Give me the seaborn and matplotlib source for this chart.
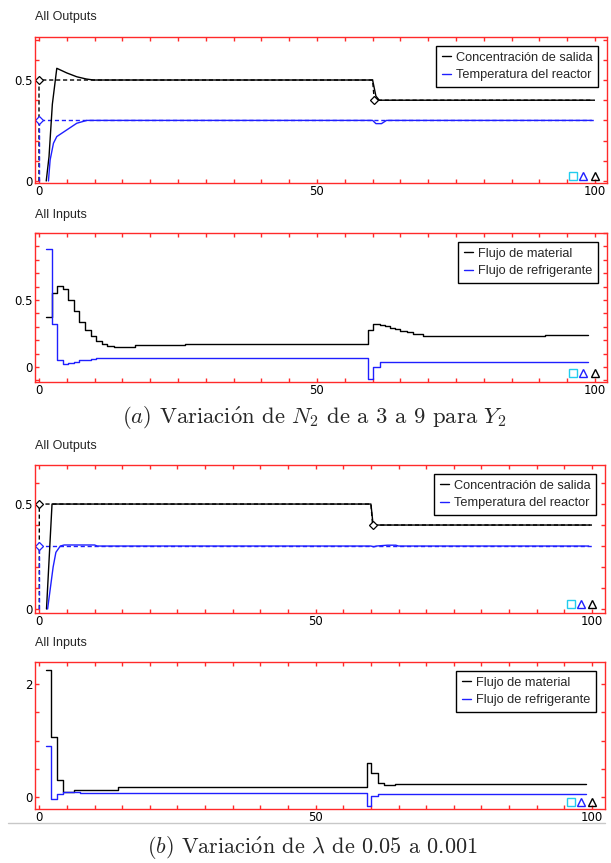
import matplotlib
matplotlib.use("Agg")
import matplotlib.pyplot as plt
from matplotlib.lines import Line2D
from matplotlib.ticker import MultipleLocator, FixedLocator
import seaborn as sns

# ---------------- (a) outputs ----------------
conc_a_t = [1.3, 1.8, 2.4, 3.2, 5.0, 6.8, 8.5, 9.8, 60.0, 60.6, 61.2, 99.6]
conc_a_y = [0.0, 0.12, 0.38, 0.558, 0.535, 0.516, 0.505, 0.5, 0.5, 0.42, 0.4, 0.4]
temp_a_t = [1.7, 2.0, 2.6, 3.2, 5.0, 6.8, 8.6, 60.0, 60.6, 61.6, 62.5, 99.4]
temp_a_y = [0.0, 0.104, 0.187, 0.22, 0.253, 0.286, 0.3, 0.3, 0.284, 0.284, 0.3, 0.3]
ref_conc_a_t = [0.0, 0.0, 60.0, 60.3, 100.0]
ref_conc_a_y = [0.0, 0.5, 0.5, 0.4, 0.4]
ref_temp_a_t = [0.0, 0.0, 100.0]
ref_temp_a_y = [0.0, 0.3, 0.3]

# ---------------- (a) inputs ----------------
material_a_t = [1.2, 2.27, 3.3, 4.25, 5.3, 6.3, 7.25, 8.27, 9.3, 10.25, 11.3, 12.3,
                13.4, 17.3, 26.2, 59.2, 60.0, 61.3, 62.2, 63.1, 64.0, 64.9, 66.1,
                67.3, 69.1, 91.0, 98.8]
material_a = [0.375, 0.55, 0.604, 0.58, 0.5, 0.42, 0.338, 0.276, 0.231, 0.196, 0.172,
              0.157, 0.152, 0.165, 0.172, 0.275, 0.32, 0.315, 0.306, 0.293, 0.281,
              0.268, 0.259, 0.249, 0.234, 0.24, 0.24]
coolant_a_t = [1.2, 2.27, 3.3, 4.25, 5.3, 6.3, 7.25, 8.27, 9.3, 10.25, 59.2, 60.0, 61.3, 98.8]
coolant_a = [0.88, 0.32, 0.052, 0.02, 0.03, 0.04, 0.05, 0.055, 0.06, 0.07, -0.09, 0.0,
             0.035, 0.035]

# ---------------- (b) outputs ----------------
conc_b_t = [1.3, 1.8, 2.3, 60.0, 60.4, 99.6]
conc_b_y = [0.0, 0.25, 0.5, 0.5, 0.4, 0.4]
temp_b_t = [1.5, 2.0, 2.5, 3.0, 3.8, 4.5, 10.0, 10.5, 60.0, 60.5, 61.0, 63.0, 64.5, 65.0, 99.4]
temp_b_y = [0.0, 0.1, 0.2, 0.27, 0.3, 0.305, 0.305, 0.3, 0.3, 0.296, 0.3, 0.304, 0.304,
            0.3, 0.3]
ref_conc_b_t = [0.0, 0.0, 60.0, 60.3, 100.0]
ref_conc_b_y = [0.0, 0.5, 0.5, 0.4, 0.4]
ref_temp_b_t = [0.0, 0.0, 100.0]
ref_temp_b_y = [0.0, 0.3, 0.3]

# ---------------- (b) inputs ----------------
material_b_t = [1.15, 2.2, 3.14, 4.2, 6.2, 14.3, 59.2, 60.0, 61.2, 62.3, 64.4, 99.0]
material_b = [2.25, 1.07, 0.3, 0.09, 0.13, 0.17, 0.61, 0.42, 0.24, 0.21, 0.23, 0.23]
coolant_b_t = [1.15, 2.2, 3.14, 4.2, 7.3, 59.2, 60.0, 61.2, 99.0]
coolant_b = [0.9, -0.04, 0.047, 0.09, 0.065, -0.16, 0.012, 0.047, 0.047]

out_labels = ["Concentración de salida", "Temperatura del reactor"]
in_labels = ["Flujo de material", "Flujo de refrigerante"]
x_ticks = [0, 50, 100]
caption_a = r"$(a)$ Variaci$\mathrm{\acute{o}}$n de $N_2$ de a 3 a 9 para $Y_2$"
caption_b = r"$(b)$ Variaci$\mathrm{\acute{o}}$n de $\lambda$ de 0.05 a 0.001"

sns.set_theme(style="white")
plt.rcParams["font.family"] = ["Liberation Sans", "DejaVu Sans"]
plt.rcParams["mathtext.fontset"] = "cm"

W, H = 611, 863
fig = plt.figure(figsize=(W / 100, H / 100), dpi=100)
fig.patch.set_facecolor("white")

RED = "#ff2a2a"
BLUE = "#1f1fff"
BLACK = "#000000"


def make_axes(left, top, right, bottom):
    return fig.add_axes([left / W, 1 - bottom / H, (right - left) / W, (bottom - top) / H])


def style_axes(ax, xlim, ylim, yticks, yminor):
    ax.set_xlim(*xlim)
    ax.set_ylim(*ylim)
    ax.set_facecolor("white")
    for sp in ax.spines.values():
        sp.set_visible(True)
        sp.set_color(RED)
        sp.set_linewidth(1.0)
    ax.xaxis.set_major_locator(FixedLocator(x_ticks))
    ax.set_xticklabels([str(v) for v in x_ticks])
    ax.yaxis.set_major_locator(FixedLocator(yticks))
    ax.set_yticklabels(["0" if v == 0 else f"{v:g}" for v in yticks])
    ax.xaxis.set_minor_locator(MultipleLocator(5))
    ax.yaxis.set_minor_locator(MultipleLocator(yminor))
    ax.tick_params(which="both", direction="in", color=RED, width=1.0, length=3,
                   top=True, right=True, bottom=True, left=True,
                   labelcolor="black", labelsize=8.5, pad=1.5)
    for lab in ax.get_xticklabels() + ax.get_yticklabels():
        lab.set_family("DejaVu Sans")
    ax.set_xlabel("")
    ax.set_ylabel("")


def corner_markers(ax, xs, y):
    ax.plot([xs[0]], [y], marker="s", ms=5.5, mfc="none", mec="#22ccee", mew=1.0,
            transform=ax.transAxes, clip_on=False)
    ax.plot([xs[1]], [y], marker="^", ms=5.5, mfc="none", mec=BLUE, mew=1.0,
            transform=ax.transAxes, clip_on=False)
    ax.plot([xs[2]], [y], marker="^", ms=5.5, mfc="none", mec=BLACK, mew=1.0,
            transform=ax.transAxes, clip_on=False)


def add_legend(ax, labels):
    handles = [Line2D([], [], color=BLACK, lw=1.0), Line2D([], [], color=BLUE, lw=1.0)]
    leg = ax.legend(handles, labels, loc="upper right", fontsize=9.2, frameon=True,
                    fancybox=False, framealpha=1, edgecolor="black",
                    handlelength=0.7, handletextpad=0.4, borderpad=0.45,
                    labelspacing=0.42, borderaxespad=0.7)
    leg.get_frame().set_linewidth(1.0)


def line(ax, t, y, color, **kw):
    sns.lineplot(x=t, y=y, ax=ax, color=color, lw=1.0, estimator=None, sort=False,
                 legend=False, **kw)


dash = (0, (3, 2))

# ---- panel 1: outputs (a)
ax1 = make_axes(35, 37, 607, 183)
line(ax1, ref_conc_a_t, ref_conc_a_y, BLACK)
line(ax1, ref_temp_a_t, ref_temp_a_y, BLUE)
for a in ax1.lines[-2:]:
    a.set_linestyle(dash)
line(ax1, conc_a_t, conc_a_y, BLACK)
line(ax1, temp_a_t, temp_a_y, BLUE)
ax1.plot([ref_conc_a_t[1], ref_conc_a_t[3]], [ref_conc_a_y[1], ref_conc_a_y[3]], ls="none",
         marker="D", ms=4, mfc="white", mec=BLACK, mew=0.9)
ax1.plot([ref_temp_a_t[1]], [ref_temp_a_y[1]], ls="none", marker="D", ms=4, mfc="white",
         mec=BLUE, mew=0.9)
style_axes(ax1, (-0.72, 102.16), (-0.01, 0.713), [0, 0.5], 0.1)
add_legend(ax1, out_labels)
corner_markers(ax1, [0.94, 0.958, 0.979], 0.05)
fig.text(35 / W, 1 - 17 / H, "All Outputs", fontsize=9, va="center", ha="left")

# ---- panel 2: inputs (a)
ax2 = make_axes(35, 233, 607, 382)
line(ax2, material_a_t, material_a, BLACK, drawstyle="steps-post")
line(ax2, coolant_a_t, coolant_a, BLUE, drawstyle="steps-post")
style_axes(ax2, (-0.72, 102.16), (-0.112, 1.0), [0, 0.5], 0.1)
add_legend(ax2, in_labels)
corner_markers(ax2, [0.94, 0.958, 0.979], 0.058)
fig.text(35 / W, 1 - 215 / H, "All Inputs", fontsize=9, va="center", ha="left")

fig.text(314 / W, 1 - 418 / H, caption_a, family=["cmr10", "DejaVu Serif"],
         fontsize=16.3, ha="center", va="center")

# ---- panel 3: outputs (b)
ax3 = make_axes(35, 465, 605, 613)
line(ax3, ref_conc_b_t, ref_conc_b_y, BLACK)
line(ax3, ref_temp_b_t, ref_temp_b_y, BLUE)
for a in ax3.lines[-2:]:
    a.set_linestyle(dash)
line(ax3, conc_b_t, conc_b_y, BLACK)
line(ax3, temp_b_t, temp_b_y, BLUE)
ax3.plot([ref_conc_b_t[1], ref_conc_b_t[3]], [ref_conc_b_y[1], ref_conc_b_y[3]], ls="none",
         marker="D", ms=4, mfc="white", mec=BLACK, mew=0.9)
ax3.plot([ref_temp_b_t[1]], [ref_temp_b_y[1]], ls="none", marker="D", ms=4, mfc="white",
         mec=BLUE, mew=0.9)
style_axes(ax3, (-0.78, 102.35), (-0.019, 0.686), [0, 0.5], 0.1)
add_legend(ax3, out_labels)
corner_markers(ax3, [0.94, 0.958, 0.978], 0.059)
fig.text(35 / W, 1 - 446 / H, "All Outputs", fontsize=9, va="center", ha="left")

# ---- panel 4: inputs (b)
ax4 = make_axes(35, 662, 605, 809)
line(ax4, material_b_t, material_b, BLACK, drawstyle="steps-post")
line(ax4, coolant_b_t, coolant_b, BLUE, drawstyle="steps-post")
style_axes(ax4, (-0.78, 102.35), (-0.212, 2.39), [0, 2], 0.5)
add_legend(ax4, in_labels)
corner_markers(ax4, [0.94, 0.958, 0.978], 0.05)
fig.text(35 / W, 1 - 643 / H, "All Inputs", fontsize=9, va="center", ha="left")

fig.add_artist(Line2D([8 / W, 605 / W], [1 - 823 / H] * 2, color="#c8c8c8", lw=1.0))
fig.text(312 / W, 1 - 848 / H, caption_b, family=["cmr10", "DejaVu Serif"],
         fontsize=16, ha="center", va="center")

fig.savefig("out.png", dpi=100, facecolor="white")
